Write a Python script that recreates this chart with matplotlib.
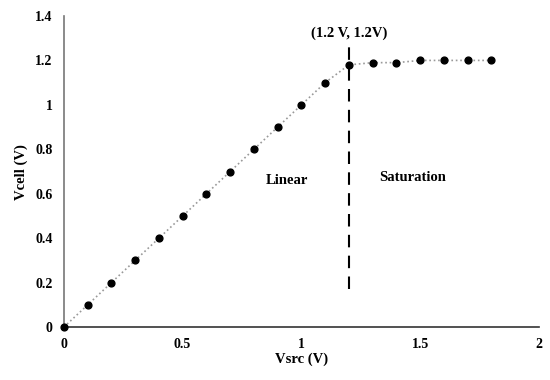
import matplotlib.pyplot as plt

# measured points
vsrc = [0, 0.1, 0.2, 0.3, 0.4, 0.5, 0.6, 0.7, 0.8, 0.9, 1.0, 1.1, 1.2, 1.3, 1.4, 1.5, 1.6, 1.7, 1.8]
vcell = [0, 0.1, 0.2, 0.3, 0.4, 0.5, 0.6, 0.7, 0.8, 0.9, 1.0, 1.1, 1.18, 1.19, 1.19, 1.2, 1.2, 1.2, 1.2]
xticks = [0, 0.5, 1, 1.5, 2]
yticks = [0, 0.2, 0.4, 0.6, 0.8, 1, 1.2, 1.4]

plt.rcParams['font.family'] = ['Liberation Serif', 'DejaVu Serif']
plt.rcParams['font.weight'] = 'bold'

fig = plt.figure(figsize=(5.5, 3.8), dpi=100)
ax = fig.add_axes([0.116, 0.139, 0.864, 0.819])

ax.plot(vsrc, vcell, color='#999999', linestyle=':', linewidth=1.2, zorder=1)
ax.scatter(vsrc, vcell, color='black', s=24, zorder=3, clip_on=False)

# boundary between regions
ax.plot([1.2, 1.2], [0.17, 1.26], color='black', linestyle=(0, (6, 4)), linewidth=1.5)

ax.text(1.2, 1.32, '(1.2 V, 1.2V)', ha='center', va='center', fontsize=10.5, fontweight='bold')
ax.text(0.94, 0.66, 'Linear', ha='center', va='center', fontsize=10.5, fontweight='bold')
ax.text(1.47, 0.675, 'Saturation', ha='center', va='center', fontsize=10.5, fontweight='bold')

ax.set_xlim(0, 2)
ax.set_ylim(0, 1.4)
ax.set_xticks(xticks)
ax.set_xticklabels(['0', '0.5', '1', '1.5', '2'])
ax.set_yticks(yticks)
ax.set_yticklabels(['0', '0.2', '0.4', '0.6', '0.8', '1', '1.2', '1.4'])
ax.tick_params(length=0, labelsize=10, pad=8)
for lab in ax.get_xticklabels() + ax.get_yticklabels():
    lab.set_fontweight('bold')

ax.set_xlabel('Vsrc (V)', fontsize=10.5, fontweight='bold', labelpad=1)
ax.set_ylabel('Vcell (V)', fontsize=10.5, fontweight='bold', labelpad=5)

ax.spines['top'].set_visible(False)
ax.spines['right'].set_visible(False)
ax.spines['left'].set_color('#777777')
ax.spines['bottom'].set_color('#333333')
ax.spines['left'].set_linewidth(1.2)
ax.spines['bottom'].set_linewidth(1.2)

fig.savefig('out.png', dpi=100)
